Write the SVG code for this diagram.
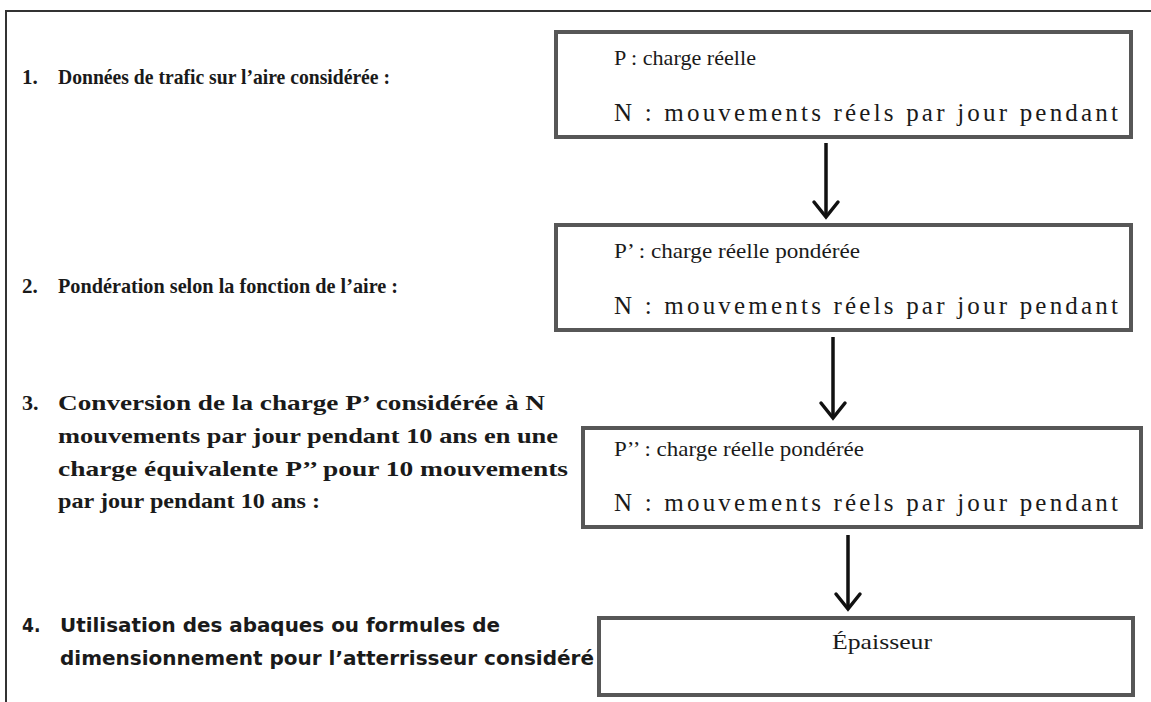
<svg xmlns="http://www.w3.org/2000/svg" width="1151" height="702" viewBox="0 0 1151 702">
<style>
.frame{fill:none;stroke:#333;stroke-width:2}
.box{fill:#fff;stroke:#575757;stroke-width:4}
.lbl{font-family:"Liberation Serif","Times New Roman",serif;font-weight:bold;font-size:21px;fill:#1a1a1a}
.lbl3{font-family:"Liberation Serif","Times New Roman",serif;font-weight:bold;font-size:22px;fill:#1a1a1a}
.lbl4{font-family:"DejaVu Sans Condensed","Liberation Sans",sans-serif;font-weight:bold;font-size:19px;fill:#1a1a1a}
.t{font-family:"Liberation Serif","Times New Roman",serif;font-size:22px;fill:#1a1a1a}
.tn{font-family:"Liberation Serif","Times New Roman",serif;font-size:25px;fill:#1a1a1a}
.conn{stroke:#111;stroke-width:3.5;fill:none}
.head{stroke:#111;stroke-width:3.5;fill:none;stroke-linecap:round;stroke-linejoin:miter}
</style>
<rect width="1151" height="702" fill="#fff"/>
<path class="frame" d="M6,702 V11 H1151"/>

<g id="step1">
<text class="lbl" x="22" y="84">1.</text>
<text class="lbl" x="58" y="84" textLength="332" lengthAdjust="spacingAndGlyphs">Données de trafic sur l’aire considérée :</text>
</g>
<g id="step2">
<text class="lbl" x="22" y="293">2.</text>
<text class="lbl" x="58" y="293" textLength="340" lengthAdjust="spacingAndGlyphs">Pondération selon la fonction de l’aire :</text>
</g>
<g id="step3">
<text class="lbl3" x="22" y="410">3.</text>
<text class="lbl3" x="58" y="410" textLength="487" lengthAdjust="spacingAndGlyphs">Conversion de la charge P’  considérée à N</text>
<text class="lbl3" x="58" y="443" textLength="500" lengthAdjust="spacingAndGlyphs">mouvements par jour pendant 10 ans en une</text>
<text class="lbl3" x="58" y="476" textLength="510" lengthAdjust="spacingAndGlyphs">charge équivalente P’’ pour 10 mouvements</text>
<text class="lbl3" x="58" y="508" textLength="262" lengthAdjust="spacingAndGlyphs">par jour pendant 10 ans :</text>
</g>
<g id="step4">
<text class="lbl4" x="22" y="632">4.</text>
<text class="lbl4" x="60" y="632" textLength="440" lengthAdjust="spacingAndGlyphs">Utilisation  des abaques ou formules de</text>
<text class="lbl4" x="60" y="665" textLength="534" lengthAdjust="spacingAndGlyphs">dimensionnement pour l’atterrisseur considéré</text>
</g>

<g id="box1">
<rect class="box" x="556" y="32" width="575" height="105"/>
<text class="t" x="614" y="65" textLength="142" lengthAdjust="spacingAndGlyphs">P : charge réelle</text>
<text class="tn" x="614" y="121" textLength="504" lengthAdjust="spacing">N : mouvements réels par jour pendant</text>
</g>
<g id="box2">
<rect class="box" x="556" y="225" width="575" height="105"/>
<text class="t" x="614" y="258" textLength="246" lengthAdjust="spacingAndGlyphs">P’ : charge réelle pondérée</text>
<text class="tn" x="614" y="314" textLength="504" lengthAdjust="spacing">N : mouvements réels par jour pendant</text>
</g>
<g id="box3">
<rect class="box" x="583" y="428" width="558" height="99"/>
<text class="t" x="614" y="456" textLength="250" lengthAdjust="spacingAndGlyphs">P’’ : charge réelle pondérée</text>
<text class="tn" x="614" y="511" textLength="504" lengthAdjust="spacing">N : mouvements réels par jour pendant</text>
</g>
<g id="box4">
<rect class="box" x="599" y="618" width="534" height="77"/>
<text class="t" x="882" y="649" text-anchor="middle" textLength="100" lengthAdjust="spacingAndGlyphs">Épaisseur</text>
</g>

<g id="connectors">
<line class="conn" x1="826" y1="143" x2="826" y2="217"/>
<path class="head" d="M814,202 L826,217 L838,202"/>
<line class="conn" x1="833" y1="337" x2="833" y2="418"/>
<path class="head" d="M821,403 L833,418 L845,403"/>
<line class="conn" x1="848" y1="535" x2="848" y2="609"/>
<path class="head" d="M836,594 L848,609 L860,594"/>
</g>
</svg>
